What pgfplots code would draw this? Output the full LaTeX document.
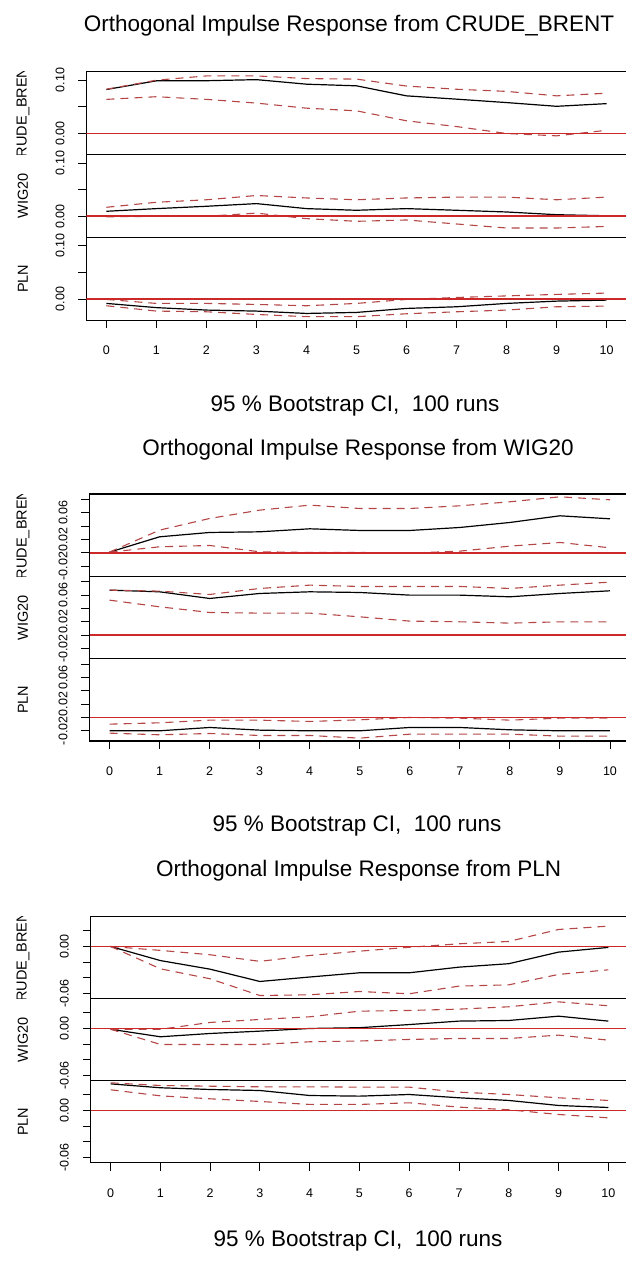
\documentclass[border=0pt]{standalone}
\usepackage{fontspec}
\setmainfont{Liberation Sans}
\usepackage{pgfplots}
\pgfplotsset{compat=1.18}
\usepackage{pgfplotstable}

\definecolor{cired}{RGB}{180,70,70}
\definecolor{zred}{RGB}{205,40,40}

\newcommand\titlefont{\fontsize{22.5}{26}\selectfont}
\newcommand\tickfont{\fontsize{12.5}{14}\selectfont}
\newcommand\labfont{\fontsize{14.5}{16}\selectfont}

\pgfplotstableread{
h z
-0.4 0
10.4 0
}\tZ

% columns: h irf up lo
\pgfplotstableread{
h irf up lo
0 0.0825 0.083 0.064
1 0.0988 0.100 0.069
2 0.099 0.108 0.064
3 0.101 0.108 0.057
4 0.0925 0.103 0.0475
5 0.0894 0.102 0.0425
6 0.0706 0.089 0.0238
7 0.0644 0.083 0.013
8 0.058 0.079 0.000
9 0.051 0.0706 -0.0044
10 0.056 0.0756 0.006
}\tAA
\pgfplotstableread{
h irf up lo
0 0.0094 0.0169 -0.001
1 0.0144 0.0263 0.000
2 0.0188 0.031 0.000
3 0.0238 0.039 0.006
4 0.0144 0.0344 -0.0044
5 0.0113 0.031 -0.0094
6 0.0144 0.0344 -0.0069
7 0.0113 0.036 -0.0144
8 0.0081 0.036 -0.022
9 0.003 0.031 -0.022
10 0.001 0.036 -0.019
}\tAB
\pgfplotstableread{
h irf up lo
0 -0.0081 -0.0006 -0.0125
1 -0.016 -0.0081 -0.0225
2 -0.0206 -0.0081 -0.0238
3 -0.0225 -0.010 -0.0288
4 -0.0269 -0.0125 -0.033
5 -0.025 -0.0081 -0.033
6 -0.0175 -0.0006 -0.0275
7 -0.0144 0.003 -0.0238
8 -0.0081 0.006 -0.0206
9 -0.0038 0.0088 -0.0144
10 -0.0019 0.0113 -0.0131
}\tAC
\pgfplotstableread{
h irf up lo
0 0.001 0.001 0.001
1 0.024 0.034 0.009
2 0.0305 0.0515 0.011
3 0.0315 0.064 0.0015
4 0.036 0.0715 0.0005
5 0.0335 0.0665 0.0005
6 0.0335 0.0665 -0.0005
7 0.038 0.0705 0.0025
8 0.0455 0.0765 0.010
9 0.0555 0.084 0.0155
10 0.051 0.0795 0.0075
}\tBA
\pgfplotstableread{
h irf up lo
0 0.0675 0.0675 0.0525
1 0.065 0.066 0.0425
2 0.055 0.061 0.034
3 0.0625 0.070 0.033
4 0.065 0.075 0.033
5 0.064 0.073 0.0275
6 0.060 0.073 0.021
7 0.060 0.073 0.020
8 0.0575 0.070 0.018
9 0.0625 0.075 0.020
10 0.0665 0.0795 0.020
}\tBB
\pgfplotstableread{
h irf up lo
0 -0.020 -0.010 -0.0235
1 -0.020 -0.008 -0.026
2 -0.015 -0.004 -0.024
3 -0.019 -0.004 -0.027
4 -0.020 -0.006 -0.027
5 -0.020 -0.0035 -0.031
6 -0.015 0.000 -0.025
7 -0.015 -0.001 -0.025
8 -0.0185 -0.004 -0.025
9 -0.020 -0.001 -0.028
10 -0.020 -0.001 -0.028
}\tBC
\pgfplotstableread{
h irf up lo
0 0 0 0
1 -0.018 -0.005 -0.0285
2 -0.029 -0.0106 -0.0413
3 -0.0447 -0.019 -0.0626
4 -0.039 -0.0115 -0.0617
5 -0.0336 -0.006 -0.0575
6 -0.0336 -0.001 -0.0604
7 -0.0264 0.0034 -0.0506
8 -0.022 0.0064 -0.049
9 -0.0072 0.0217 -0.0357
10 -0.0012 0.026 -0.0298
}\tCA
\pgfplotstableread{
h irf up lo
0 -0.001 -0.001 -0.001
1 -0.0106 -0.001 -0.0204
2 -0.0064 0.0077 -0.0204
3 -0.0034 0.0115 -0.0204
4 0.000 0.0149 -0.017
5 0.001 0.0221 -0.016
6 0.005 0.023 -0.014
7 0.0094 0.0247 -0.0128
8 0.0102 0.0277 -0.0128
9 0.0157 0.034 -0.0085
10 0.0094 0.029 -0.0149
}\tCB
\pgfplotstableread{
h irf up lo
0 0.034 0.0353 0.0264
1 0.029 0.0319 0.0187
2 0.0268 0.031 0.0149
3 0.0255 0.0302 0.0115
4 0.0191 0.0302 0.0077
5 0.0183 0.0298 0.0077
6 0.0204 0.0298 0.0098
7 0.0162 0.0234 0.0043
8 0.0128 0.0204 0.0009
9 0.0064 0.0162 -0.0051
10 0.0038 0.0128 -0.0094
}\tCC

\pgfplotsset{
  irf/.style={scale only axis, xmin=-0.4, xmax=10.4,
    anchor=north west,
    axis line style={black, line width=1.1pt},
    tick style={black, line width=0.9pt},
    tick align=outside, major tick length=8pt,
    ytick pos=left, xtick pos=bottom,
    scaled y ticks=false, scaled x ticks=false,
    yticklabel style={xshift=-18.4pt, rotate=90, anchor=center, inner sep=0pt, font=\tickfont},
    xticklabel style={anchor=base, inner sep=0pt, font=\tickfont},
    xtick=\empty, clip=true},
  bottomx/.style={xtick={0,...,10}, xticklabels={0,1,2,3,4,5,6,7,8,9,10},
    xticklabel style={yshift=-26.5pt}},
  blockA/.style={ymin=-0.0394, ymax=0.1159, ytick={0,0.05,0.1}, yticklabels={0.00,,0.10}, width=540.2pt, height=82.8pt},
  blockB/.style={ymin=-0.0353, ymax=0.0882, ytick={-0.02,0,0.02,0.04,0.06,0.08}, yticklabels={-0.02,,0.02,,0.06,}, width=540.5pt, height=82.33pt},
  blockC/.style={ymin=-0.0667, ymax=0.038, ytick={-0.06,-0.04,-0.02,0,0.02}, yticklabels={-0.06,,,0.00,}, width=537.5pt, height=82pt},
}

\newcommand\irfplots[1]{%
  \addplot[draw=black, line width=1.2pt, mark=none] table[x=h, y=irf] {#1};
  \addplot[draw=cired, line width=1.1pt, mark=none, dash pattern=on 8pt off 6pt] table[x=h, y=up] {#1};
  \addplot[draw=cired, line width=1.1pt, mark=none, dash pattern=on 8pt off 6pt] table[x=h, y=lo] {#1};
  \addplot[draw=zred, line width=1.6pt, mark=none] table[x=h, y=z] {\tZ};
}

\newcommand\ylab[3]{% text, top, bottom (pt, positive down)
  \begin{scope}
    \clip (0pt,-#2pt) rectangle (45pt,-#3pt);
    \node[rotate=90, font=\labfont, inner sep=0pt] at (23pt,{-(#2+#3)/2*1pt}) {#1};
  \end{scope}}

\begin{document}
\begin{tikzpicture}
\path[use as bounding box] (0pt,0pt) rectangle (625pt,-1261pt);

% ---------- Block 1 ----------
\begin{axis}[irf, blockA, at={(86.4pt,-71.7pt)}]
\irfplots{\tAA}
\end{axis}
\begin{axis}[irf, blockA, at={(86.4pt,-154.5pt)}]
\irfplots{\tAB}
\end{axis}
\begin{axis}[irf, blockA, bottomx, at={(86.4pt,-237.3pt)}]
\irfplots{\tAC}
\end{axis}
\node[font=\titlefont, anchor=base] at (349pt,-31.7pt) {Orthogonal Impulse Response from CRUDE\_BRENT};
\node[font=\titlefont, anchor=base] at (355pt,-411.7pt) {95 \% Bootstrap CI,\ \ 100 runs};
\ylab{CRUDE\_BRENT}{71.7}{154.5}
\ylab{WIG20}{154.5}{237.3}
\ylab{PLN}{237.3}{320.1}

% ---------- Block 2 ----------
\begin{axis}[irf, blockB, at={(89.5pt,-494pt)}]
\irfplots{\tBA}
\end{axis}
\begin{axis}[irf, blockB, at={(89.5pt,-576.33pt)}]
\irfplots{\tBB}
\end{axis}
\begin{axis}[irf, blockB, bottomx, at={(89.5pt,-658.67pt)}]
\irfplots{\tBC}
\end{axis}
\node[font=\titlefont, anchor=base] at (358pt,-455pt) {Orthogonal Impulse Response from WIG20};
\node[font=\titlefont, anchor=base] at (357pt,-831.7pt) {95 \% Bootstrap CI,\ \ 100 runs};
\ylab{CRUDE\_BRENT}{494}{576.33}
\ylab{WIG20}{576.33}{658.67}
\ylab{PLN}{658.67}{741}

% ---------- Block 3 ----------
\begin{axis}[irf, blockC, at={(90.7pt,-916.7pt)}]
\irfplots{\tCA}
\end{axis}
\begin{axis}[irf, blockC, at={(90.7pt,-998.7pt)}]
\irfplots{\tCB}
\end{axis}
\begin{axis}[irf, blockC, bottomx, at={(90.7pt,-1080.7pt)}]
\irfplots{\tCC}
\end{axis}
\node[font=\titlefont, anchor=base] at (358.6pt,-876.7pt) {Orthogonal Impulse Response from PLN};
\node[font=\titlefont, anchor=base] at (358pt,-1246.7pt) {95 \% Bootstrap CI,\ \ 100 runs};
\ylab{CRUDE\_BRENT}{916.7}{998.7}
\ylab{WIG20}{998.7}{1080.7}
\ylab{PLN}{1080.7}{1162.7}
\end{tikzpicture}
\end{document}
